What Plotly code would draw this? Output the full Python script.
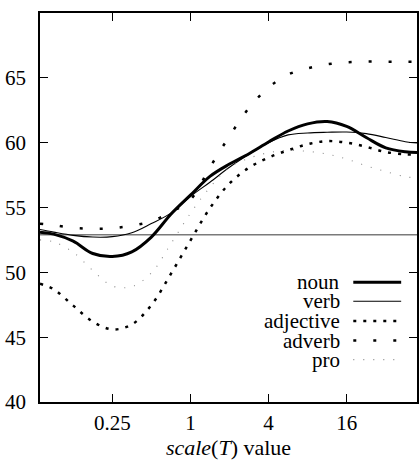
import plotly.graph_objects as go

# log2 of scale(T) sample positions
log2_scale = [-3.85, -3.5, -3, -2.5, -2, -1.5, -1, -0.5, 0, 0.5, 1, 1.5, 2, 2.5, 3, 3.5, 4, 4.5, 5, 5.5, 5.8]
scale_T = [2 ** k for k in log2_scale]

noun = [53.1, 52.95, 52.4, 51.45, 51.22, 51.58, 52.72, 54.48, 55.95, 57.4, 58.35, 59.15, 60.05, 60.9, 61.45,
        61.63, 61.25, 60.4, 59.6, 59.3, 59.25]
verb = [53.3, 53.1, 52.85, 52.72, 52.75, 53.05, 53.76, 54.57, 55.85, 56.95, 58.1, 59.1, 60.0, 60.6, 60.75,
        60.8, 60.82, 60.7, 60.4, 60.07, 59.97]
adjective = [49.12, 48.7, 47.43, 46.2, 45.6, 45.98, 47.47, 49.88, 52.45, 54.95, 56.85, 58.07, 58.85, 59.41,
             59.88, 60.12, 60.0, 59.68, 59.28, 59.1, 59.1]
adverb = [53.75, 53.64, 53.43, 53.36, 53.4, 53.6, 53.93, 54.65, 55.6, 58.1, 60.5, 62.68, 64.25, 65.25,
          65.73, 66.04, 66.2, 66.25, 66.25, 66.25, 66.25]
pro = [52.5, 52.35, 51.55, 50.15, 48.95, 48.9, 49.95, 52.2, 54.55, 56.55, 58.1, 58.8, 59.23, 59.4, 59.33,
       59.12, 58.73, 58.22, 57.77, 57.38, 57.27]

baseline = 52.9

x_tick_vals = [0.25, 1, 4, 16]
x_tick_text = ["0.25", "1", "4", "16"]
y_tick_vals = [40, 45, 50, 55, 60, 65]

series_names = ["noun", "verb", "adjective", "adverb", "pro"]
series_values = [noun, verb, adjective, adverb, pro]
styles = {
    "noun": dict(color="black", width=3, dash="solid"),
    "verb": dict(color="black", width=1.1, dash="solid"),
    "adjective": dict(color="black", width=2.5, dash="3px,7px"),
    "adverb": dict(color="black", width=2.5, dash="3px,17px"),
    "pro": dict(color="#8a8a8a", width=1.1, dash="1px,9px"),
}

FONT = "Liberation Serif"
fig = go.Figure()

fig.add_hline(y=baseline, line=dict(color="#7a7a7a", width=1.5), layer="below")

for name, vals in zip(series_names, series_values):
    fig.add_trace(go.Scatter(
        x=scale_T, y=vals, mode="lines", name=name,
        line=dict(shape="spline", smoothing=1.0, **styles[name]),
        showlegend=False,
    ))

# manual legend (text right-aligned, sample to the right)
row_y = [0.308, 0.259, 0.208, 0.158, 0.109]
for name, yy in zip(series_names, row_y):
    fig.add_annotation(
        x=0.802, y=yy, xref="paper", yref="paper", text=name, showarrow=False,
        xanchor="right", yanchor="middle", font=dict(family=FONT, size=21, color="black"),
    )
    st = styles[name]
    fig.add_shape(
        type="line", xref="paper", yref="paper", x0=0.831, x1=0.958, y0=yy, y1=yy,
        line=dict(color=st["color"], width=st["width"], dash=st["dash"]),
    )

fig.update_layout(
    width=420, height=460,
    margin=dict(l=40, r=1, t=13, b=58),
    paper_bgcolor="white", plot_bgcolor="white",
    font=dict(family=FONT, size=21, color="black"),
    showlegend=False,
)
fig.update_xaxes(
    type="log", range=[-3.85 * 0.30103, 5.8 * 0.30103],
    tickvals=x_tick_vals, ticktext=x_tick_text,
    ticks="inside", ticklen=8, tickwidth=1, tickcolor="black",
    showline=True, linecolor="black", linewidth=1.5, mirror="ticks",
    showgrid=False, zeroline=False, ticklabelstandoff=1,
    tickfont=dict(family=FONT, size=21),
    title=dict(text="<i>scale</i>(<i>T</i>) value", standoff=0, font=dict(family=FONT, size=22)),
)
fig.update_yaxes(
    range=[40, 70], tickvals=y_tick_vals,
    ticks="inside", ticklen=8, tickwidth=1, tickcolor="black",
    showline=True, linecolor="black", linewidth=1.5, mirror="ticks",
    showgrid=False, zeroline=False, ticklabelstandoff=8,
    tickfont=dict(family=FONT, size=21),
)

fig.write_html("out.html")
